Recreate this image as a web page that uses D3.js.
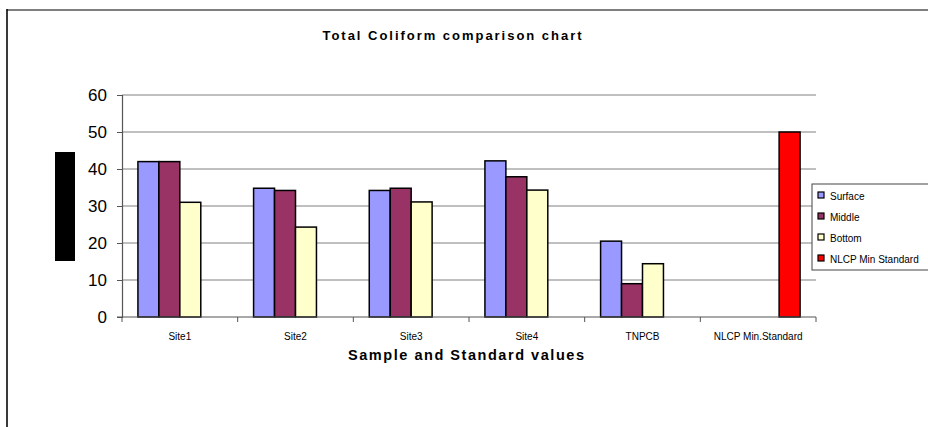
<!DOCTYPE html>
<html>
<head>
<meta charset="utf-8">
<script src="https://cdn.jsdelivr.net/npm/d3@7"></script>
<style>
  html, body { margin: 0; padding: 0; background: #fff; }
  svg { display: block; font-family: "Liberation Sans", Arial, sans-serif; }
</style>
</head>
<body>
<svg id="chart" width="928" height="427"></svg>
<script>
// Total coliform readings per sampling site, plus the reference standards
const categories = ["Site1", "Site2", "Site3", "Site4", "TNPCB", "NLCP Min.Standard"];
const seriesNames = ["Surface", "Middle", "Bottom", "NLCP Min Standard"];
const surface = [42, 34.8, 34.2, 42.2, 20.5, null];
const middle  = [42, 34.2, 34.8, 37.9, 9.0, null];
const bottom  = [31, 24.3, 31.1, 34.3, 14.4, null];
const nlcpMin = [null, null, null, null, null, 50];
const yTicks = [0, 10, 20, 30, 40, 50, 60];
const colors = ["#9999FF", "#993366", "#FFFFCC", "#FF0000"];

const allSeries = [surface, middle, bottom, nlcpMin];

const svg = d3.select("#chart");

// Outer chart frame (extends past the right/bottom edge)
svg.append("line").attr("x1", 7).attr("x2", 7).attr("y1", 9).attr("y2", 427)
  .attr("stroke", "#3a3a3a").attr("stroke-width", 2);
svg.append("line").attr("x1", 7).attr("x2", 928).attr("y1", 10).attr("y2", 10)
  .attr("stroke", "#000").attr("stroke-width", 1.2);

const plot = { left: 122, right: 816, top: 95, bottom: 317 };

const x = d3.scaleBand().domain(categories).range([plot.left, plot.right]);
const xs = d3.scaleBand().domain(seriesNames)
  .range([0, x.bandwidth()]).paddingOuter(0.76).paddingInner(0);
const y = d3.scaleLinear().domain([0, 60]).range([plot.bottom, plot.top]);

// Horizontal gridlines
svg.append("g").selectAll("line").data(yTicks.filter(d => d > 0)).join("line")
  .attr("x1", plot.left).attr("x2", plot.right)
  .attr("y1", d => y(d)).attr("y2", d => y(d))
  .attr("stroke", "#808080").attr("stroke-width", 1);

// Bars
const barData = [];
allSeries.forEach((vals, si) => {
  vals.forEach((v, ci) => {
    if (v != null) barData.push({ cat: categories[ci], s: seriesNames[si], v, color: colors[si] });
  });
});
svg.append("g").selectAll("rect").data(barData).join("rect")
  .attr("x", d => x(d.cat) + xs(d.s))
  .attr("y", d => y(d.v))
  .attr("width", xs.bandwidth())
  .attr("height", d => y(0) - y(d.v))
  .attr("fill", d => d.color)
  .attr("stroke", "#000").attr("stroke-width", 1.5);

// Y axis
const yAxis = svg.append("g").attr("transform", `translate(${plot.left},0)`)
  .call(d3.axisLeft(y).tickValues(yTicks).tickSize(5).tickPadding(10));
yAxis.select(".domain").attr("stroke", "#555").attr("stroke-width", 1.2);
yAxis.selectAll(".tick line").attr("stroke", "#555");
yAxis.selectAll(".tick text").attr("font-size", 17).attr("fill", "#000")
  .attr("font-family", "Liberation Sans, Arial, sans-serif");

// X axis with ticks at category boundaries
const xAxis = svg.append("g").attr("transform", `translate(0,${plot.bottom})`);
xAxis.append("line").attr("x1", plot.left - 5).attr("x2", plot.right)
  .attr("stroke", "#555").attr("stroke-width", 1.2);
const bounds = categories.map(c => x(c)).concat([plot.right]);
xAxis.selectAll("line.tk").data(bounds).join("line").attr("class", "tk")
  .attr("x1", d => d).attr("x2", d => d).attr("y1", 0).attr("y2", 5)
  .attr("stroke", "#555");
xAxis.selectAll("text").data(categories).join("text")
  .attr("x", d => x(d) + x.bandwidth() / 2).attr("y", 23)
  .attr("text-anchor", "middle").attr("font-size", 10).attr("fill", "#000")
  .text(d => d);

// Y axis title block
svg.append("rect").attr("x", 55).attr("y", 152).attr("width", 20).attr("height", 109).attr("fill", "#000");

// Chart title
svg.append("text").attr("x", 452).attr("y", 40).attr("text-anchor", "middle")
  .attr("font-size", 13).attr("font-weight", "bold")
  .attr("textLength", 259).attr("lengthAdjust", "spacing")
  .text("Total Coliform comparison chart");

// X axis title
svg.append("text").attr("x", 466).attr("y", 360).attr("text-anchor", "middle")
  .attr("font-size", 14.5).attr("font-weight", "bold")
  .attr("textLength", 236).attr("lengthAdjust", "spacing")
  .text("Sample and Standard values");

// Legend
const legend = svg.append("g").attr("transform", "translate(812,184)");
legend.append("rect").attr("x", 0).attr("y", 0).attr("width", 130).attr("height", 86)
  .attr("fill", "#fff").attr("stroke", "#444").attr("stroke-width", 1);
const items = legend.selectAll("g.item").data(seriesNames).join("g").attr("class", "item")
  .attr("transform", (d, i) => `translate(6,${12 + i * 21})`);
items.append("rect").attr("x", 0).attr("y", -4).attr("width", 6).attr("height", 6)
  .attr("fill", (d, i) => colors[i]).attr("stroke", "#000").attr("stroke-width", 1.2);
items.append("text").attr("x", 12).attr("y", 3.5).attr("font-size", 10).attr("fill", "#000")
  .text(d => d);
</script>
</body>
</html>
